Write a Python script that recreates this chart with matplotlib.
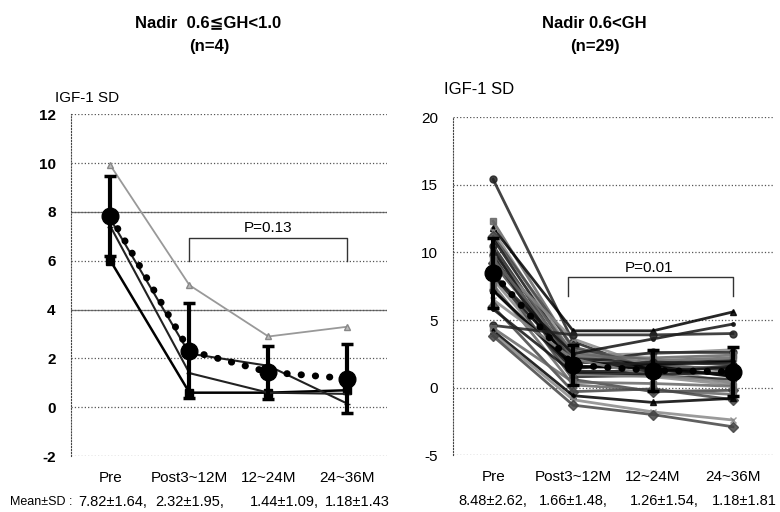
import numpy as np
import matplotlib.pyplot as plt

plt.rcParams['font.family'] = ['Liberation Sans', 'DejaVu Sans', 'Noto Sans CJK JP']

periods = ['Pre', 'Post3~12M', '12~24M', '24~36M']

# Nadir 0.6 <= GH < 1.0 (n=4), individual cases
left_cases = [
    [9.9, 5.0, 2.9, 3.3],
    [6.0, 0.6, 0.6, 0.7],
    [7.4, 1.4, 0.6, 0.55],
    [7.7, 2.2, 1.7, 0.15],
]
left_mean = [7.82, 2.32, 1.44, 1.18]
left_sd = [1.64, 1.95, 1.09, 1.43]
left_text = ['7.82±1.64,', '2.32±1.95,', '1.44±1.09,', '1.18±1.43']

# Nadir 0.6 < GH (n=29), one value per case for each period
right_pre = [15.4, 12.3, 11.8, 11.6, 11.2, 11.0, 10.5, 10.0, 9.6, 9.4, 9.2, 10.2, 9.8, 9.5, 8.2,
             8.0, 8.6, 8.3, 7.2, 7.6, 7.2, 6.5, 6.0, 5.8, 4.6, 4.4, 4.2, 4.0, 3.8]
right_post = [3.4, 2.8, 4.2, 2.4, 3.0, 2.2, 1.8, 2.6, 1.5, 3.6, 2.0, 1.2, 0.8, 2.3, 1.9,
              1.0, 0.6, 2.5, 1.4, 0.2, 1.6, 2.1, -0.3, 1.1, 3.9, 0.4, -0.6, -0.9, -1.3]
right_m24 = [1.2, 2.0, 4.2, 2.5, 1.6, 1.8, 2.6, 1.8, 1.6, 1.5, 1.3, 1.2, 0.9, 2.2, 1.7,
             0.8, -0.3, 3.6, 1.9, -0.2, 1.4, 0.9, -0.1, 1.0, 3.9, 0.3, -1.1, -1.8, -2.0]
right_m36 = [1.6, 2.2, 5.6, 2.8, 1.4, 2.0, 2.6, 1.2, 0.8, 0.3, 1.0, 1.5, 0.6, 2.4, 1.9,
             0.2, -0.2, 4.7, 1.7, -0.5, 0.9, 0.4, -0.9, 1.1, 4.0, 0.1, -0.8, -2.4, -2.9]
right_mean = [8.48, 1.66, 1.26, 1.18]
right_sd = [2.62, 1.48, 1.54, 1.81]
right_text = ['8.48±2.62,', '1.66±1.48,', '1.26±1.54,', '1.18±1.81']

x = np.arange(len(periods))

fig = plt.figure(figsize=(7.8, 5.12), dpi=100)
ax1 = fig.add_axes([0.091, 0.109, 0.405, 0.668])
ax2 = fig.add_axes([0.581, 0.111, 0.410, 0.660])


def style_axes(ax, ylim, yticks, bold):
    ax.set_xlim(-0.5, 3.5)
    ax.set_ylim(*ylim)
    ax.set_yticks(yticks)
    ax.set_yticklabels([str(t) for t in yticks], fontsize=11,
                       fontweight='bold' if bold else 'normal')
    ax.set_xticks(x)
    ax.set_xticklabels(periods, fontsize=11)
    ax.tick_params(length=0, axis='y', pad=11)
    ax.tick_params(length=0, axis='x', pad=11)
    for s in ['top', 'right', 'bottom']:
        ax.spines[s].set_visible(False)
    ax.spines['left'].set_linestyle(':')
    ax.spines['left'].set_color('#444444')
    ax.yaxis.grid(True, linestyle=':', color='#555555', lw=0.9)
    ax.set_axisbelow(True)


def mean_line(ax, m, sd):
    ax.errorbar(x, m, yerr=sd, color='black', lw=0, elinewidth=3, capsize=4,
                capthick=2.5, zorder=5)
    ax.plot(x, m, color='black', lw=5, linestyle=(0, (0.05, 2.0)),
            dash_capstyle='round', zorder=6)
    ax.plot(x, m, color='black', lw=0, marker='o', ms=12, zorder=7)


# ---- left panel ----
style_axes(ax1, (-2, 12), list(range(-2, 13, 2)), True)
for yv in [8, 4]:
    ax1.axhline(yv, color='#777777', lw=0.9, zorder=0)

ax1.plot(x, left_cases[0], color='#999999', lw=1.3, marker='^', ms=5, mfc='#bbbbbb', mec='#888888')
ax1.plot(x, left_cases[1], color='black', lw=1.8, marker='s', ms=6)
ax1.plot(x, left_cases[2], color='#222222', lw=1.5, marker='+', ms=5)
ax1.plot(x, left_cases[3], color='#222222', lw=1.5, marker='_', ms=5)
mean_line(ax1, left_mean, left_sd)

ax1.plot([1, 1, 3, 3], [6.0, 6.95, 6.95, 6.0], color='#333333', lw=1)
ax1.text(2, 7.05, 'P=0.13', ha='center', va='bottom', fontsize=11)

# ---- right panel ----
style_axes(ax2, (-5, 20), [-5, 0, 5, 10, 15, 20], False)

line_colors = ['#222222', '#666666', '#000000', '#888888', '#444444', '#111111']
line_marks = ['o', 's', '^', 'x', 'D', '.']
for i in range(len(right_pre)):
    vals = [right_pre[i], right_post[i], right_m24[i], right_m36[i]]
    ax2.plot(x, vals, color=line_colors[i % len(line_colors)], lw=2.0,
             marker=line_marks[i % len(line_marks)], ms=5, alpha=0.85)
mean_line(ax2, right_mean, right_sd)

ax2.plot([0.93, 0.93, 3, 3], [6.8, 8.2, 8.2, 6.8], color='#333333', lw=1)
ax2.text(1.95, 8.3, 'P=0.01', ha='center', va='bottom', fontsize=11)

# ---- y labels and titles ----
fig.text(55 / 780, 1 - 98 / 512, 'IGF-1 SD', ha='left', va='center', fontsize=11)
fig.text(444 / 780, 1 - 90 / 512, 'IGF-1 SD', ha='left', va='center', fontsize=12)

fig.text(208 / 780, 1 - 23 / 512, 'Nadir  0.6≦GH<1.0', ha='center', va='center',
         fontsize=12, fontweight='bold')
fig.text(209 / 780, 1 - 47 / 512, '(n=4)', ha='center', va='center', fontsize=12,
         fontweight='bold')
fig.text(594 / 780, 1 - 23 / 512, 'Nadir 0.6<GH', ha='center', va='center',
         fontsize=12, fontweight='bold')
fig.text(595 / 780, 1 - 47 / 512, '(n=29)', ha='center', va='center', fontsize=12,
         fontweight='bold')

# ---- mean ± SD row ----
row_y = 1 - 502 / 512
fig.text(10 / 780, row_y, 'Mean±SD :', ha='left', va='center', fontsize=9)
left_off = [0.03, 0, 0.2, 0.12]
for i, t in enumerate(left_text):
    ax1.text(x[i] + left_off[i], -0.135, t, transform=ax1.get_xaxis_transform(),
             ha='center', va='center', fontsize=10.5)
right_off = [0, 0, 0.14, 0.14]
for i, t in enumerate(right_text):
    ax2.text(x[i] + right_off[i], -0.136, t, transform=ax2.get_xaxis_transform(),
             ha='center', va='center', fontsize=10.5)

plt.savefig('out.png', dpi=100)
